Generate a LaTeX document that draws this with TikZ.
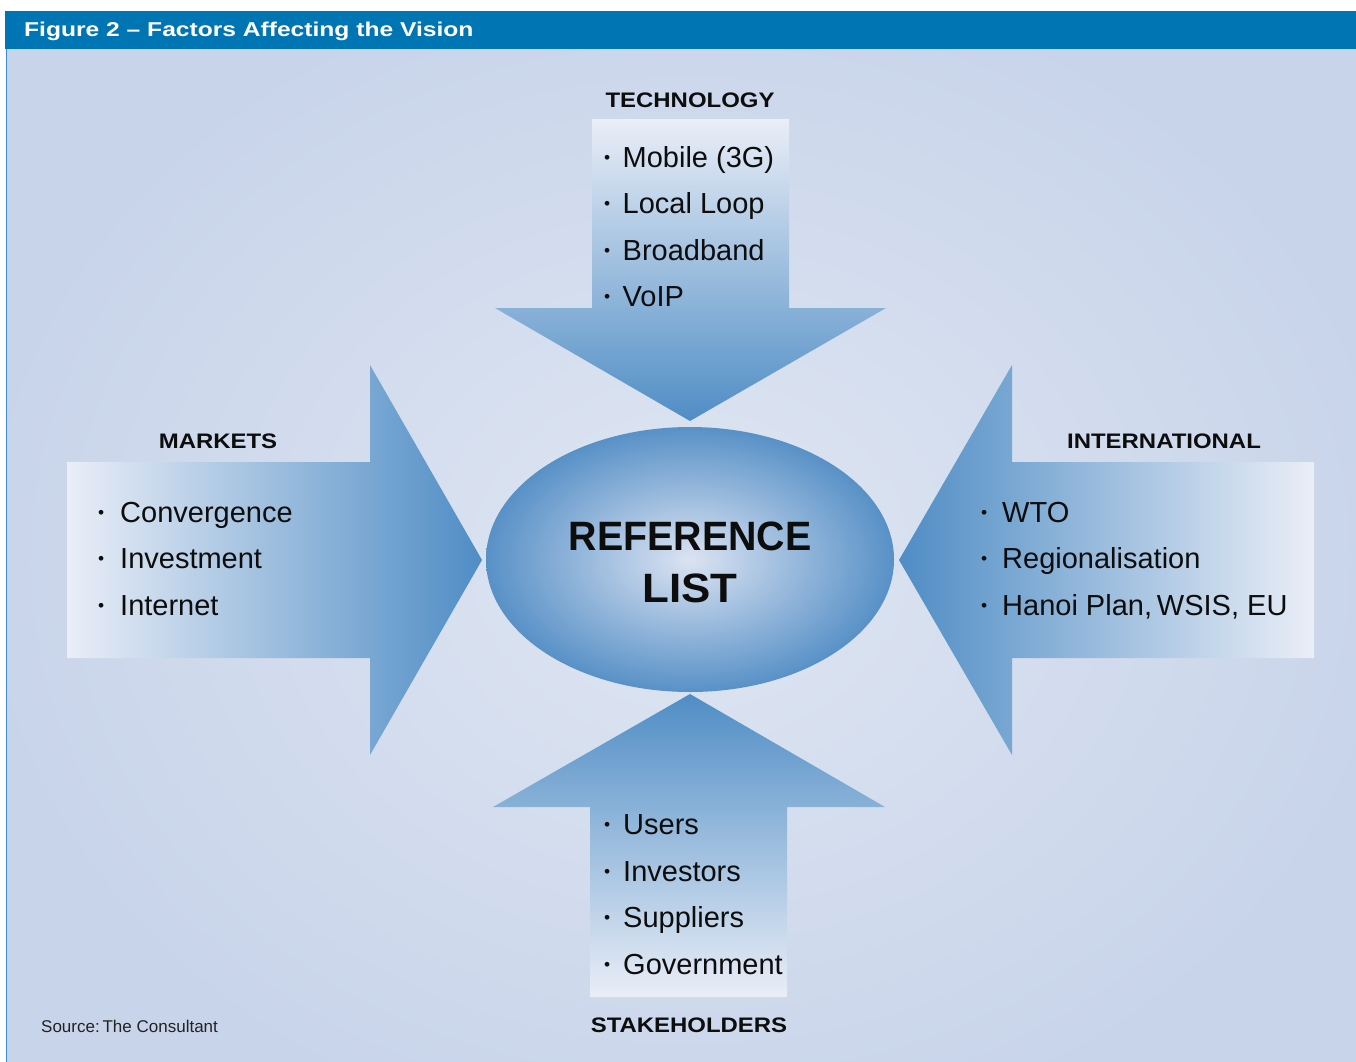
\documentclass[tikz,border=0pt]{standalone}
\usepackage{fontspec}
\setmainfont{Liberation Sans}
\usepackage{graphicx}
\usetikzlibrary{shapes.geometric}

\definecolor{hdr}{HTML}{0075B4}
\definecolor{edgeline}{HTML}{3F8DC8}
\definecolor{bgin}{HTML}{DFE6F2}
\definecolor{bgout}{HTML}{C8D4EA}
\definecolor{arrowtail}{HTML}{EAEEF7}
\definecolor{arrowmid}{HTML}{A6BEDF}
\definecolor{arrowtip}{HTML}{4F8DC5}
\definecolor{ellin}{HTML}{DBE3F2}
\definecolor{ellout}{HTML}{5891C7}
\definecolor{inkc}{HTML}{0D0D0D}
\definecolor{srcc}{HTML}{222222}

% bullet item: #1 = width of the bullet box, #2 = text
\newcommand{\bul}[2]{\makebox[#1][l]{\hspace{2pt}\raisebox{0.13em}{\scalebox{0.6}{\textbullet}}}#2}
% wide bold headings
\newcommand{\widecap}[1]{\scalebox{1.14}[1]{#1}}

\begin{document}
\begin{tikzpicture}[x=1pt,y=-1pt,
  item/.style={anchor=base west, inner sep=0pt, text=inkc,
    font=\fontsize{29}{29}\selectfont},
  cat/.style={anchor=base, inner sep=0pt, text=inkc,
    font=\bfseries\fontsize{21}{21}\selectfont},
  bigword/.style={anchor=base, inner sep=0pt, text=inkc,
    font=\bfseries\fontsize{41}{41}\selectfont},
]
\useasboundingbox (0,0) rectangle (1356,1061);

% page background and header bar
\fill[white] (-5,-5) rectangle (1365,1070);
\begin{scope}
  \clip (7,49) rectangle (1365,1070);
  \fill[bgout] (7,49) rectangle (1365,1070);
  \shade[inner color=bgin, outer color=bgout] (690,560) ellipse [x radius=720, y radius=600];
\end{scope}
\draw[edgeline, line width=1.5pt] (6.5,49) -- (6.5,1070);
\fill[hdr] (5,11) rectangle (1365,49);
\node[anchor=base west, inner sep=0pt, text=white,
  font=\bfseries\fontsize{20}{20}\selectfont] (title) at (24,36)
  {\scalebox{1.23}[1]{Figure 2 -- Factors Affecting the Vision}};

% block arrows pointing at the centre
\shade[top color=arrowtail, middle color=arrowmid, bottom color=arrowtip]
  (592,119) -- (789,119) -- (789,308) -- (886,308) -- (690,421)
  -- (495,308) -- (592,308) -- cycle;
\shade[top color=arrowtip, middle color=arrowmid, bottom color=arrowtail]
  (590,997) -- (787,997) -- (787,807) -- (885,807) -- (690,694)
  -- (493,807) -- (590,807) -- cycle;
\shade[left color=arrowtail, middle color=arrowmid, right color=arrowtip]
  (67,462) -- (370,462) -- (370,365) -- (482,560) -- (370,755)
  -- (370,658) -- (67,658) -- cycle;
\shade[left color=arrowtip, middle color=arrowmid, right color=arrowtail]
  (1314,462) -- (1012,462) -- (1012,365) -- (899,560) -- (1012,755)
  -- (1012,658) -- (1314,658) -- cycle;

% centre ellipse
\node[ellipse, minimum width=408pt, minimum height=265pt, inner sep=0pt,
  inner color=ellin, outer color=ellout, shade] (ref) at (690,559.5) {};
\node[bigword] (refa) at (690,550) {\scalebox{0.96}[1]{REFERENCE}};
\node[bigword] (refb) at (690,602) {\scalebox{1.07}[1]{LIST}};

% technology
\node[cat] (tech) at (690,107) {\widecap{TECHNOLOGY}};
\node[item] (t1) at (602,167) {\bul{20.5pt}{Mobile (3G)}};
\node[item] (t2) at (602,213) {\bul{20.5pt}{Local Loop}};
\node[item] (t3) at (602,260) {\bul{20.5pt}{Broadband}};
\node[item] (t4) at (602,306) {\bul{20.5pt}{VoIP}};

% markets
\node[cat] (mkt) at (218,448) {\widecap{MARKETS}};
\node[item] (m1) at (96,522) {\bul{24pt}{Convergence}};
\node[item] (m2) at (96,568) {\bul{24pt}{Investment}};
\node[item] (m3) at (96,615) {\bul{24pt}{Internet}};

% international
\node[cat] (intl) at (1164,448) {\widecap{INTERNATIONAL}};
\node[item] (i1) at (979,522) {\bul{23pt}{WTO}};
\node[item] (i2) at (979,568) {\bul{23pt}{Regionalisation}};
\node[item] (i3) at (979,615) {\bul{23pt}{Hanoi Plan,\,WSIS, EU}};

% stakeholders
\node[item] (s1) at (602,834) {\bul{21pt}{Users}};
\node[item] (s2) at (602,881) {\bul{21pt}{Investors}};
\node[item] (s3) at (602,927) {\bul{21pt}{Suppliers}};
\node[item] (s4) at (602,974) {\bul{21pt}{Government}};
\node[cat] (stake) at (689,1032) {\widecap{STAKEHOLDERS}};

% source note
\node[anchor=base west, inner sep=0pt, text=srcc,
  font=\fontsize{17}{17}\selectfont] (src) at (41,1032) {Source:\,The Consultant};
\end{tikzpicture}
\end{document}
